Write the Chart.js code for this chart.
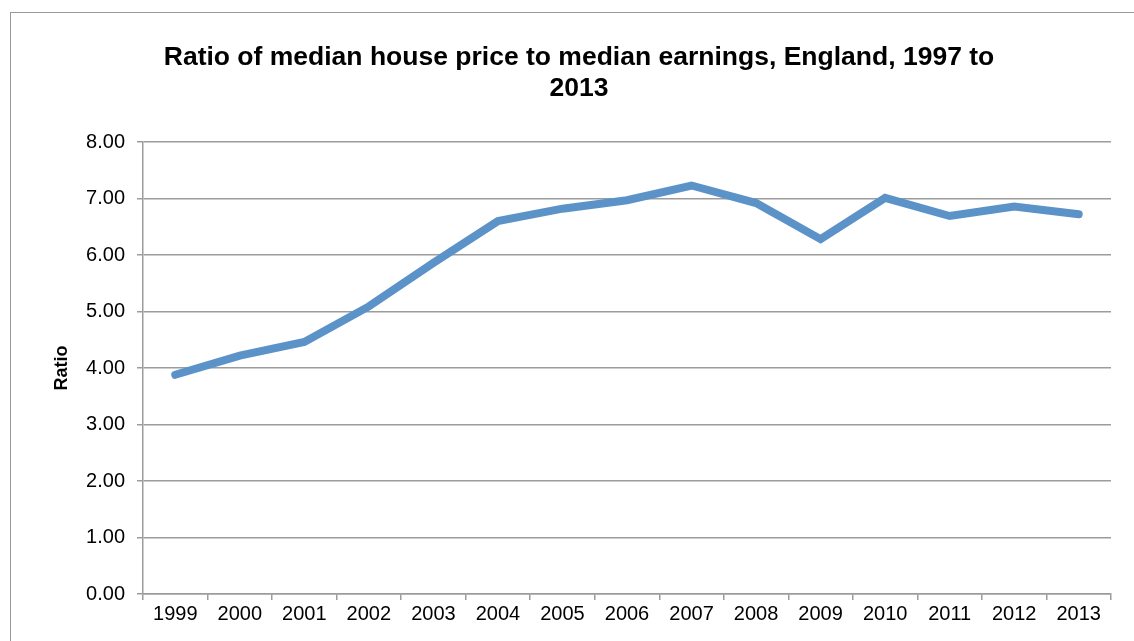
<!DOCTYPE html>
<html>
<head>
<meta charset="utf-8">
<script src="https://cdn.jsdelivr.net/npm/chart.js@4"></script>
<style>
  html, body { margin: 0; padding: 0; background: #fff; overflow: hidden; }
  #box {
    position: absolute;
    left: 10px;
    top: 12px;
    width: 1136px;
    height: 650px;
    border: 1px solid #999;
  }
</style>
</head>
<body>
<div id="box"><canvas id="ratioChart"></canvas></div>
<script>
// data
const years = ["1999", "2000", "2001", "2002", "2003", "2004", "2005", "2006",
               "2007", "2008", "2009", "2010", "2011", "2012", "2013"];
const ratios = [3.88, 4.22, 4.46, 5.09, 5.86, 6.60, 6.82, 6.97,
                7.23, 6.92, 6.28, 7.01, 6.69, 6.86, 6.72];
const titleLines = ["Ratio of median house price to median earnings, England, 1997 to", "2013"];

const FONT = "'Liberation Sans', Arial, sans-serif";
const GRID = "#9c9c9c";

const ctx = document.getElementById("ratioChart").getContext("2d");

new Chart(ctx, {
  type: "line",
  data: {
    labels: years,
    datasets: [{
      label: "Ratio",
      data: ratios,
      borderColor: "#5b93c9",
      borderWidth: 8,
      borderCapStyle: "round",
      borderJoinStyle: "miter",
      tension: 0,
      fill: false,
      pointRadius: 0,
      yAxisID: "y"
    }]
  },
  options: {
    responsive: true,
    maintainAspectRatio: false,
    animation: false,
    layout: { padding: 0 },
    plugins: {
      legend: { display: false },
      tooltip: { enabled: false },
      title: {
        display: true,
        text: titleLines,
        color: "#000",
        font: { family: FONT, size: 26.5, weight: "bold", lineHeight: 1.17 },
        padding: { top: 29, bottom: 38 }
      }
    },
    scales: {
      x: {
        offset: true,
        grid: {
          offset: true,
          drawOnChartArea: false,
          drawTicks: true,
          tickLength: 6,
          color: GRID,
          lineWidth: 1.5
        },
        border: { color: GRID, width: 1.5 },
        ticks: {
          color: "#000",
          font: { family: FONT, size: 20 },
          padding: 2,
          maxRotation: 0,
          autoSkip: false
        },
        afterFit: s => { s.height = 69; }
      },
      y: {
        position: "left",
        min: 0,
        max: 8,
        grid: {
          color: GRID,
          lineWidth: 1.5,
          tickLength: 6
        },
        border: { color: GRID, width: 1.5 },
        ticks: {
          stepSize: 1,
          color: "#000",
          font: { family: FONT, size: 20 },
          padding: 12,
          callback: v => v.toFixed(2)
        },
        title: {
          display: true,
          text: "Ratio",
          color: "#000",
          font: { family: FONT, size: 18, weight: "bold" },
          padding: { top: 40, bottom: 0 }
        },
        afterFit: s => { s.width = 132; }
      },
      spacer: {
        position: "right",
        display: true,
        grid: { display: false },
        border: { display: false },
        ticks: { display: false },
        afterFit: s => { s.width = 36; }
      }
    }
  }
});
</script>
</body>
</html>
